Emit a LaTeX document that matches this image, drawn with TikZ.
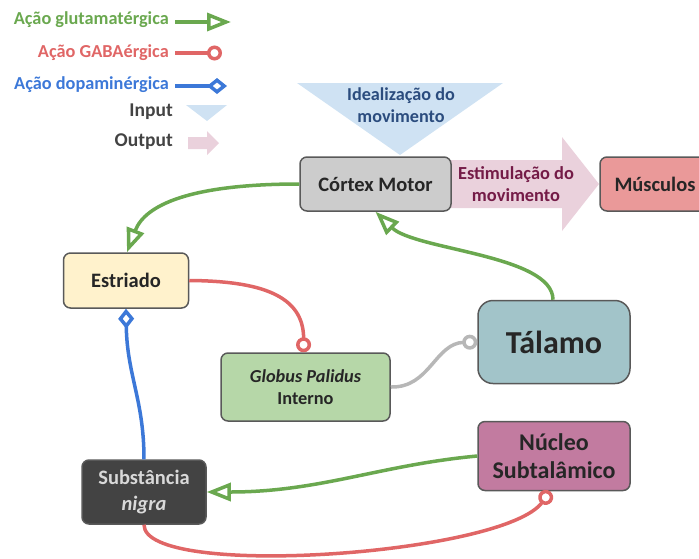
\documentclass[tikz,border=0pt]{standalone}
\usepackage{fontspec}
\setmainfont{Carlito}
\usetikzlibrary{arrows.meta}

\definecolor{glut}{HTML}{6AA84F}
\definecolor{gaba}{HTML}{E06666}
\definecolor{dopa}{HTML}{3C78D8}
\definecolor{grayline}{HTML}{B7B7B7}
\definecolor{boxline}{HTML}{595959}
\definecolor{txt}{HTML}{262626}
\definecolor{inputfill}{HTML}{CFE2F3}
\definecolor{inputtxt}{HTML}{2B4C7E}
\definecolor{outputfill}{HTML}{EAD1DC}
\definecolor{outputtxt}{HTML}{741B47}
\definecolor{cortexfill}{HTML}{CCCCCC}
\definecolor{estriadofill}{HTML}{FFF2CC}
\definecolor{gpifill}{HTML}{B6D7A8}
\definecolor{talamofill}{HTML}{A2C4C9}
\definecolor{nucleofill}{HTML}{C27BA0}
\definecolor{nigrafill}{HTML}{434343}
\definecolor{nigratxt}{HTML}{D9D9D9}
\definecolor{musculofill}{HTML}{EA9999}

\tikzset{
  region/.style={draw=boxline, line width=1.5pt, rounded corners=7pt,
    text=txt, font=\bfseries\fontsize{20.5}{26}\selectfont, align=center,
    inner sep=0pt},
  glutline/.style={draw=glut, line width=3.5pt,
    -{Triangle[open, length=24pt, width=18pt, line width=3.5pt]}},
  gabaline/.style={draw=gaba, line width=3.5pt,
    -{Circle[open, length=15pt, line width=3.5pt, fill=white]}},
  dopaline/.style={draw=dopa, line width=3.5pt,
    -{Diamond[open, length=20pt, width=16pt, line width=3.5pt, fill=white]}},
  thalline/.style={draw=grayline, line width=3.5pt,
    -{Circle[open, length=15pt, line width=3.5pt, fill=white]}},
  legendtext/.style={font=\bfseries\fontsize{18.3}{20}\selectfont, anchor=east,
    inner sep=0pt},
}

\begin{document}
\begin{tikzpicture}[x=1pt, y=-1pt]
\useasboundingbox (0,0) rectangle (699,558);
\clip (0,0) rectangle (699,558);

% legend
\node[legendtext, text=glut] (lgGlut) at (169,20) {Ação glutamatérgica};
\node[legendtext, text=gaba] (lgGaba) at (169,53) {Ação GABAérgica};
\node[legendtext, text=dopa] (lgDopa) at (169,85) {Ação dopaminérgica};
\node[legendtext, text=nigrafill, font=\bfseries\fontsize{19.5}{20}\selectfont]
  (lgIn) at (173,112) {Input};
\node[legendtext, text=nigrafill, font=\bfseries\fontsize{19.5}{20}\selectfont]
  (lgOut) at (173,142) {Output};
\coordinate (lgGlutEnd) at (231,22);
\coordinate (lgGabaEnd) at (222,53);
\coordinate (lgDopaEnd) at (227,86);
\draw[glutline] (175,22) -- (lgGlutEnd);
\draw[gabaline] (175,53) -- (lgGabaEnd);
\draw[dopaline] (175,86) -- (lgDopaEnd);
\fill[inputfill] (186,105) -- (227,105) -- (207,121) -- cycle;
\fill[outputfill] (188,137) -- (207,137) -- (207,131) -- (219,143)
  -- (207,155) -- (207,149) -- (188,149) -- cycle;

% input and output shapes
\fill[inputfill] (297,83) -- (503,83) -- (400,155) -- cycle;
\fill[outputfill] (451,160) -- (562,160) -- (562,137) -- (599,184)
  -- (562,231) -- (562,208) -- (451,208) -- cycle;
\node[text=inputtxt, font=\bfseries\fontsize{18.2}{22}\selectfont, align=center]
  (ideal) at (401,105) {Idealização do\\movimento};
\node[text=outputtxt, font=\bfseries\fontsize{18.4}{22}\selectfont, align=center]
  (estim) at (516,184) {Estimulação do\\movimento};

% regions
\node[region, fill=cortexfill, minimum width=151pt, minimum height=54pt]
  (cortex) at (375.5,184) {Córtex Motor};
\node[region, fill=musculofill, minimum width=110pt, minimum height=54pt]
  (musculos) at (655,184) {Músculos};
\node[region, fill=estriadofill, minimum width=125pt, minimum height=55pt]
  (estriado) at (126,280.5) {Estriado};
\node[region, fill=gpifill, minimum width=169pt, minimum height=68pt,
  font=\bfseries\fontsize{18.3}{22}\selectfont]
  (gpi) at (305.5,387) {\textit{Globus Palidus}\\Interno};
\node[region, fill=talamofill, minimum width=152pt, minimum height=83pt,
  rounded corners=15pt, text=black!85, font=\bfseries\fontsize{32}{34}\selectfont]
  (talamo) at (554,342) {Tálamo};
\node[region, fill=nucleofill, minimum width=152pt, minimum height=69pt,
  text=black!85, font=\bfseries\fontsize{24}{28}\selectfont]
  (nucleo) at (554,456) {Núcleo\\Subtalâmico};
\node[region, fill=nigrafill, minimum width=124pt, minimum height=64pt,
  text=nigratxt, font=\bfseries\fontsize{20.5}{26}\selectfont]
  (nigra) at (144,492) {Substância\\\textit{nigra}};

% connections
\draw[glutline] (cortex.west) .. controls (190,184) and (145,205) .. ([xshift=1pt]estriado.north);
\draw[glutline] ([xshift=-1pt]talamo.north) .. controls (553,255) and (415,250) .. (cortex.south);
\draw[gabaline] (estriado.east) .. controls (260,281) and (304,295) .. ([xshift=-2pt]gpi.north);
\draw[thalline] (gpi.east) .. controls (430,388) and (435,343) .. (talamo.west);
\draw[dopaline] (nigra.north) .. controls (144,400) and (127,375) .. (estriado.south);
\draw[glutline] (nucleo.west) .. controls (380,465) and (320,492) .. (nigra.east);
\draw[gabaline] (nigra.south) .. controls (144,580) and (505,555) .. ([xshift=-4pt]nucleo.south);
\end{tikzpicture}
\end{document}
